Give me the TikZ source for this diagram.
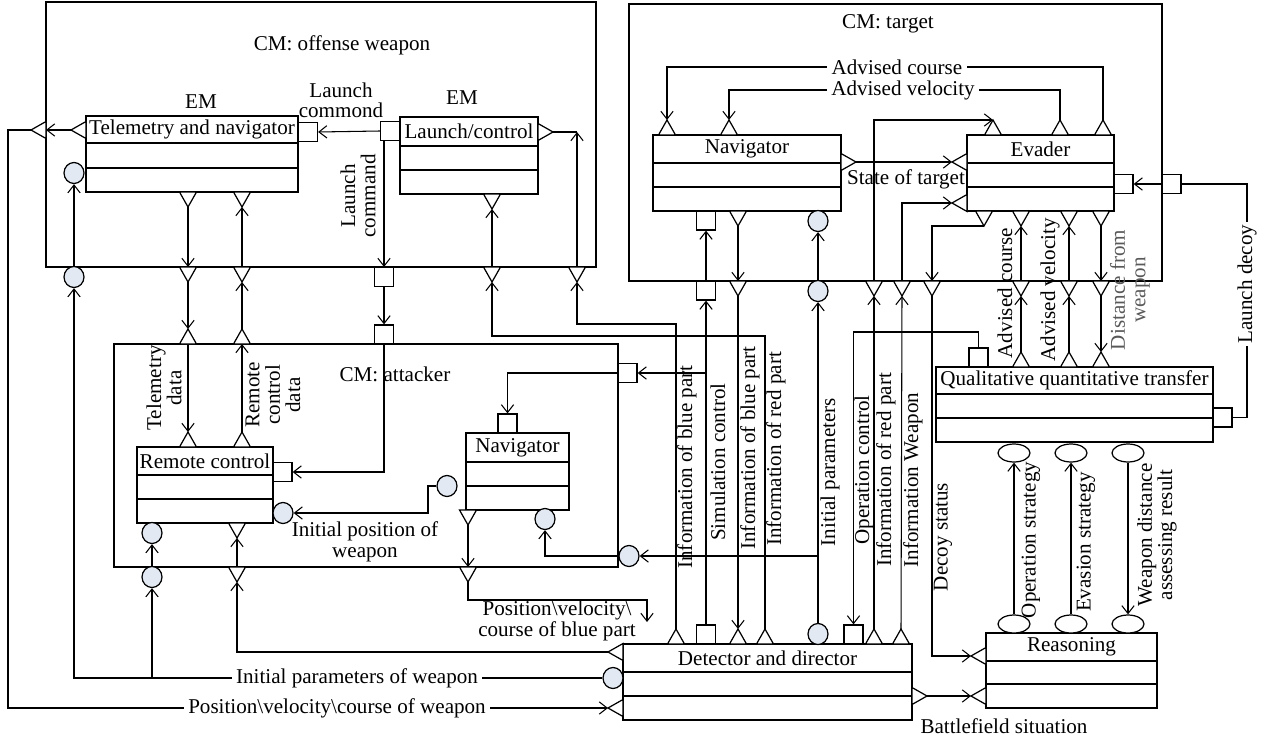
\documentclass[tikz,border=0pt]{standalone}
\usepackage{fontspec}
\setmainfont{Liberation Serif}
\usetikzlibrary{arrows.meta,shapes.geometric}
\definecolor{portblue}{RGB}{226,233,243}
\newcommand\tD[3]{\draw[tport] ({#2-8.5},#3) -- ({#2+8.5},#3) -- (#2,{#3+15}) -- cycle; \coordinate (#1) at (#2,{#3+15});}
\newcommand\tU[3]{\draw[tport] ({#2-8.5},#3) -- ({#2+8.5},#3) -- (#2,{#3-15}) -- cycle; \coordinate (#1) at (#2,{#3-15});}
\newcommand\tL[3]{\draw[tport] (#2,{#3-8.5}) -- (#2,{#3+8.5}) -- ({#2-15},#3) -- cycle; \coordinate (#1) at ({#2-15},#3);}
\newcommand\tR[3]{\draw[tport] (#2,{#3-8.5}) -- (#2,{#3+8.5}) -- ({#2+15},#3) -- cycle; \coordinate (#1) at ({#2+15},#3);}
\newcommand\umlbox[8]{%
  \draw[box] (#2,#4) rectangle (#3,#7);
  \draw[rowl] (#2,#5) -- (#3,#5);
  \draw[rowl] (#2,#6) -- (#3,#6);
  \node (#1) at ({(#2+#3)/2},{(#4+#5)/2}) {#8};}
\begin{document}
\begin{tikzpicture}[x=0.02cm,y=-0.02cm,
  font={\fontsize{12}{11.6}\selectfont\lineskiplimit=-30pt\relax},
  box/.style={line width=0.85pt},
  rowl/.style={line width=1.2pt},
  ln/.style={line width=0.6pt},
  arr/.style={ln,-{Straight Barb[length=4.5pt,width=7pt]}},
  tport/.style={draw,fill=white,line width=0.7pt},
  sqport/.style={draw,fill=white,rectangle,minimum size=0.38cm,inner sep=0pt,line width=0.7pt},
  cport/.style={draw,fill=portblue,ellipse,minimum width=0.4cm,minimum height=0.42cm,inner sep=0pt,line width=0.7pt},
  eport/.style={draw,fill=white,ellipse,minimum width=0.64cm,minimum height=0.36cm,inner sep=0pt,line width=0.7pt},
  hid/.style={draw=none,fill=none},
  wl/.style={fill=white,inner sep=2.5pt},
  rl/.style={rotate=90,inner sep=0pt,align=center},
]
\useasboundingbox (0,0) rectangle (1265,740);

% ---------- container boxes
\draw[box] (46,2) rectangle (596,267);
\draw[box] (629,4) rectangle (1162,281);
\draw[box] (114,344) rectangle (618,567);
\node (tOff) at (342,45) {CM: offense weapon};
\node (tTar) at (888,24) {CM: target};

% ---------- UML boxes
\umlbox{tel}{86}{298}{116}{143}{168}{192}{Telemetry and navigator}
\umlbox{lc}{400}{538}{117}{146}{170}{194}{Launch/control}
\umlbox{nav}{653}{841}{135}{163}{187}{211}{Navigator}
\umlbox{eva}{967}{1114}{135}{163}{187}{211}{Evader}
\umlbox{rem}{137}{273}{447}{475}{499}{523}{Remote control}
\umlbox{anav}{466}{569}{433}{462}{486}{510}{Navigator}
\umlbox{qual}{936}{1213}{367}{394}{418}{442}{Qualitative quantitative transfer}
\umlbox{det}{623}{912}{644}{672}{696}{720}{Detector and director}
\umlbox{rea}{986}{1157}{633}{661}{684}{708}{Reasoning}

% ---------- triangle port tips
\path (71,130) coordinate (tlL) (31,130) coordinate (ofL) (553,132) coordinate (lcR)
  (188,207) coordinate (tB1) (242,207) coordinate (tB2) (492,209) coordinate (lcB)
  (188,282) coordinate (oB1) (242,282) coordinate (oB2) (492,282) coordinate (oB3) (577,282) coordinate (oB4)
  (188,329) coordinate (aT1) (242,329) coordinate (aT2) (188,432) coordinate (rT1) (242,432) coordinate (rT2)
  (237,538) coordinate (rB1) (237,582) coordinate (aB1) (468,582) coordinate (aB2) (468,525) coordinate (nB1)
  (667,120) coordinate (nT1) (729,120) coordinate (nT2) (993,120) coordinate (eT1) (1060,120) coordinate (eT2) (1103,120) coordinate (eT3)
  (856,162) coordinate (nR) (952,162) coordinate (eL1) (952,203) coordinate (eL2)
  (738,226) coordinate (tnB) (984,226) coordinate (eB1) (1021,226) coordinate (eB2) (1069,226) coordinate (eB3) (1101,226) coordinate (eB4)
  (738,296) coordinate (toB1) (874,296) coordinate (toB2) (902,296) coordinate (toB3) (932,296) coordinate (toB4)
  (1021,296) coordinate (toB5) (1069,296) coordinate (toB6) (1101,296) coordinate (toB7)
  (1021,352) coordinate (qT1) (1069,352) coordinate (qT2) (1101,352) coordinate (qT3)
  (608,652) coordinate (dL1) (608,708) coordinate (dL2)
  (676,629) coordinate (dT1) (738,629) coordinate (dT3) (765,629) coordinate (dT4) (874,629) coordinate (dT5) (901,629) coordinate (dT6)
  (927,696) coordinate (dR) (971,656) coordinate (rL1) (971,696) coordinate (rL2);

% square / circle / ellipse port anchors
\path
  (308,132) node[sqport,hid] (tsq) {}
  (390,131) node[sqport,hid] (lsq) {}
  (384,277) node[sqport,hid] (ofsq) {}
  (384,334.5) node[sqport,hid] (atsq) {}
  (282.5,472) node[sqport,hid] (rsq) {}
  (507.5,423.5) node[sqport,hid] (nsq) {}
  (627.5,373) node[sqport,hid] (arsq) {}
  (706,220.5) node[sqport,hid] (tnsq) {}
  (706,290.5) node[sqport,hid] (tosq) {}
  (1123.5,184) node[sqport,hid] (esq) {}
  (1171.5,184) node[sqport,hid] (trsq) {}
  (978.5,357.5) node[sqport,hid] (qsq) {}
  (1222.5,417.5) node[sqport,hid] (qrsq) {}
  (706,634.5) node[sqport,hid] (dsq1) {}
  (853.5,634.5) node[sqport,hid] (dsq2) {}
  (74,173) node[cport,hid] (tc) {}
  (74,277) node[cport,hid] (oc) {}
  (152,533) node[cport,hid] (rc1) {}
  (152,577) node[cport,hid] (ac1) {}
  (283,513) node[cport,hid] (rc2) {}
  (447,486) node[cport,hid] (ipc) {}
  (545,519) node[cport,hid] (nc) {}
  (629,556) node[cport,hid] (arc) {}
  (818,221) node[cport,hid] (tnc) {}
  (818,291) node[cport,hid] (toc) {}
  (818,634) node[cport,hid] (dc1) {}
  (613,678) node[cport,hid] (dc2) {}
  (1014,453) node[eport,hid] (qe1) {}
  (1071,453) node[eport,hid] (qe2) {}
  (1128,453) node[eport,hid] (qe3) {}
  (1014,624) node[eport,hid] (re1) {}
  (1071,624) node[eport,hid] (re2) {}
  (1128,624) node[eport,hid] (re3) {};

% ---------- connectors
\draw[arr] (tlL) -- (46,130);
\draw[arr] (ofL) -- (8,130) |- (dL2);
\draw[arr] (lsq.west) -- (tsq.east);
\draw[ln] (lcR) -- (577,132);
\draw[arr] (577,267) -- (577,132);
\draw[arr] (dT1) |- (577,324) -- (oB4);
\draw[arr] (492,267) -- (lcB);
\draw[arr] (dT4) |- (492,336) -- (oB3);
\draw[arr] (384,141) -- (384,267);
\draw[arr] (ofsq.south) -- (atsq.north);
\draw[arr] (atsq.south) |- (rsq.east);
\draw[arr] (tB1) -- (188,267);
\draw[arr] (oB1) -- (aT1);
\draw[arr] (188,344) -- (rT1);
\draw[arr] (rT2) -- (242,344);
\draw[arr] (aT2) -- (oB2);
\draw[arr] (242,267) -- (tB2);
\draw[arr] (74,267) -- (tc.south);
\draw[arr] (dc2.west) -| (oc.south);
\draw[arr] (152,678) -- (ac1.south);
\draw[arr] (152,567) -- (rc1.south);
\draw[arr] (dL1) -| (aB1);
\draw[arr] (237,567) -- (rB1);
\draw[arr] (nB1) -- (468,567);
\draw[arr] (aB2) -- (468,600) -- (647,600) -- (647,622);
\draw[arr] (ipc.west) -- (428,486) -- (428,513) -- (rc2.east);
\draw[arr] (dsq1.north) -- (tosq.south);
\draw[arr] (706,373) -- (arsq.east);
\draw[arr] (706,281) -- (tnsq.south);
\draw[arr] (arsq.west) -| (nsq.north);
\draw[arr] (tnB) -- (738,281);
\draw[arr] (toB1) -- (dT3);
\draw[arr] (dc1.north) -- (toc.south);
\draw[arr] (818,556) -- (arc.east);
\draw[arr] (arc.west) -| (nc.south);
\draw[arr] (818,281) -- (tnc.south);
\draw[arr] (qsq.north) |- (853.5,332) -- (dsq2.north);
\draw[arr] (dT5) -- (toB2);
\draw[arr] (874,281) |- (eT1);
\draw[arr] (dT6) -- (toB3);
\draw[arr] (902,281) |- (eL2);
\draw[arr] (eB1) -| (932,281);
\draw[arr] (toB4) |- (rL1);
\draw[arr] (nR) -- (eL1);
\draw[arr] (eT3) |- (667,67) -- (nT1);
\draw[arr] (eT2) |- (729,90) -- (nT2);
\draw[arr] (1021,281) -- (eB2);
\draw[arr] (qT1) -- (toB5);
\draw[arr] (1069,281) -- (eB3);
\draw[arr] (qT2) -- (toB6);
\draw[arr] (eB4) -- (1101,281);
\draw[arr] (toB7) -- (qT3);
\draw[ln] (qrsq.east) -| (1247,184) -- (trsq.east);
\draw[arr] (trsq.west) -- (esq.east);
\draw[arr] (re1.north) -- (qe1.south);
\draw[arr] (re2.north) -- (qe2.south);
\draw[arr] (qe3.south) -- (re3.north);
\draw[arr] (dR) -- (rL2);

% ---------- triangle ports
\tL{x1}{86}{130} \tL{x2}{46}{130} \tR{x3}{538}{132}
\tD{x4}{188}{192} \tD{x5}{242}{192} \tD{x6}{492}{194}
\tD{x7}{188}{267} \tD{x8}{242}{267} \tD{x9}{492}{267} \tD{x10}{577}{267}
\tU{x11}{188}{344} \tU{x12}{242}{344} \tU{x13}{188}{447} \tU{x14}{242}{447}
\tD{x15}{237}{523} \tD{x16}{237}{567} \tD{x17}{468}{567} \tD{x18}{468}{510}
\tU{x19}{667}{135} \tU{x20}{729}{135}
\tU{x21}{993}{135} \tU{x22}{1060}{135} \tU{x23}{1103}{135}
\tR{x24}{841}{162} \tL{x25}{967}{162} \tL{x26}{967}{203}
\tD{x27}{738}{211}
\tD{x28}{984}{211} \tD{x29}{1021}{211} \tD{x30}{1069}{211} \tD{x31}{1101}{211}
\tD{x32}{738}{281} \tD{x33}{874}{281} \tD{x34}{902}{281} \tD{x35}{932}{281}
\tD{x36}{1021}{281} \tD{x37}{1069}{281} \tD{x38}{1101}{281}
\tU{x39}{1021}{367} \tU{x40}{1069}{367} \tU{x41}{1101}{367}
\tL{x42}{623}{652} \tL{x43}{623}{708}
\tU{x44}{676}{644} \tU{x45}{738}{644} \tU{x46}{765}{644} \tU{x47}{874}{644} \tU{x48}{901}{644}
\tR{x49}{912}{696}
\tL{x50}{986}{656} \tL{x51}{986}{696}

% ---------- square / circle / ellipse ports (visible)
\foreach \n in {tsq,lsq,ofsq,atsq,rsq,nsq,arsq,tnsq,tosq,esq,trsq,qsq,qrsq,dsq1,dsq2}
  \node[sqport] at (\n) {};
\foreach \n in {tc,oc,rc1,ac1,rc2,ipc,nc,arc,tnc,toc,dc1,dc2}
  \node[cport] at (\n) {};
\foreach \n in {qe1,qe2,qe3,re1,re2,re3}
  \node[eport] at (\n) {};

% ---------- labels
\node (lAtt) at (395,374) {CM: attacker};
\node (lEM1) at (201,102) {EM};
\node (lEM2) at (462,98) {EM};
\node[align=center] (lLc1) at (341,100) {Launch\\commond};
\node[rl] (lLc2) at (358,196) {Launch\\command};
\node[rl] (lTd) at (164,388) {Telemetry\\data};
\node[rl] (lRcd) at (273,395) {Remote\\control\\data};
\node[align=center] (lIpw) at (365,542) {Initial position of\\weapon};
\node[align=center] (lPvb) at (557,621) {Position\textbackslash velocity\textbackslash\\course of blue part};
\node[wl] (lIpar) at (357,678) {Initial parameters of weapon};
\node[wl] (lPvw) at (337,708) {Position\textbackslash velocity\textbackslash course of weapon};
\node (lSt) at (906,179) {State of target};
\node[wl] (lAc) at (897,67) {Advised course};
\node[wl] (lAv) at (903,90) {Advised velocity};
\node[rl] (v1) at (687,467) {Information of blue part};
\node[rl] (v2) at (718,462) {Simulation control};
\node[rl] (v3) at (750,448) {Information of blue part};
\node[rl] (v4) at (776,449) {Information of red part};
\node[rl] (v5) at (830,472) {Initial parameters};
\node[rl] (v6) at (864,470) {Operation control};
\node[rl] (v7) at (886,470) {Information of red part};
\node[rl] (v8) at (913,480) {Information Weapon};
\node[rl] (v9) at (943,537) {Decoy status};
\node[rl] (v10) at (1005,293) {Advised course};
\node[rl] (v11) at (1050,290) {Advised velocity};
\node[rl,text=black!65] (v12) at (1130,290) {Distance from\\weapon};
\node[rl,fill=white,inner sep=1.5pt] (v13) at (1247,284) {Launch decoy};
\node[rl] (v14) at (1031,540) {Operation strategy};
\node[rl] (v15) at (1086,542) {Evasion strategy};
\node[rl] (v16) at (1157,535) {Weapon distance\\assessing result};
\node (lBs) at (1004,726) {Battlefield situation};
\end{tikzpicture}
\end{document}
